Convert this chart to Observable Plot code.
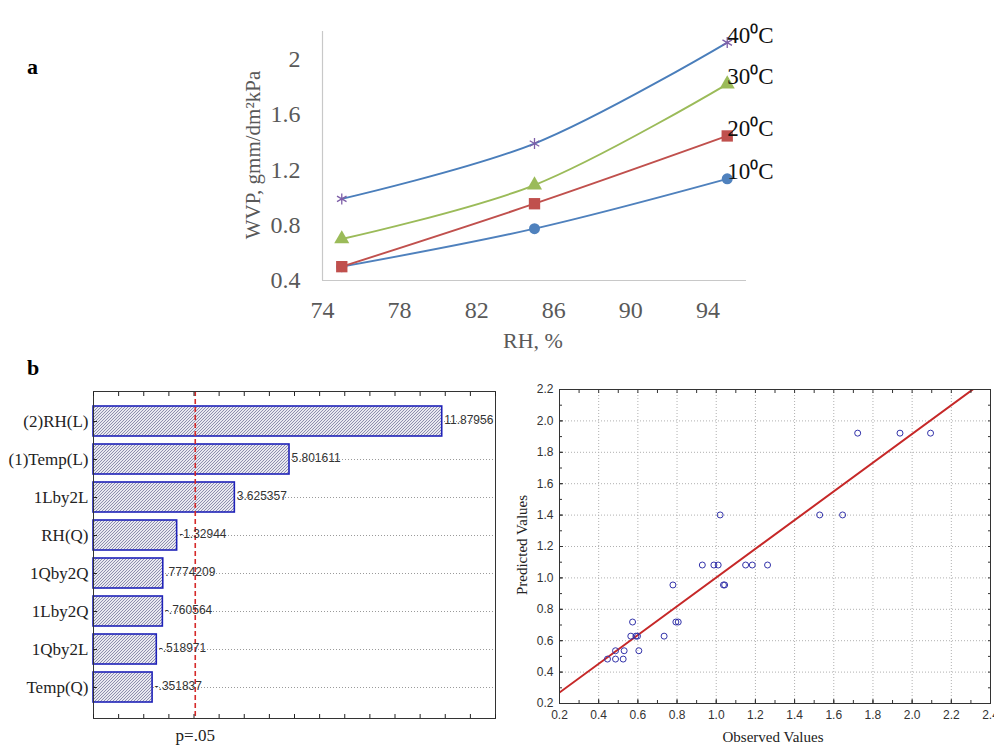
<!DOCTYPE html>
<html><head><meta charset="utf-8">
<script src="https://cdn.jsdelivr.net/npm/d3@7"></script>
<script src="https://cdn.jsdelivr.net/npm/@observablehq/plot@0.6"></script>
<style>
html,body{margin:0;padding:0;background:#fff;}
#root{position:relative;width:994px;height:747px;overflow:hidden;background:#fff;}
#root > svg{position:absolute;}
</style></head><body><div id="root"></div>
<script>
// ---------- Panel a data ----------
const rhLevels = [75, 85, 95];
const seriesNames = ["10⁰C", "20⁰C", "30⁰C", "40⁰C"];
const wvp10 = [0.50, 0.775, 1.135];
const wvp20 = [0.50, 0.955, 1.445];
const wvp30 = [0.70, 1.09, 1.82];
const wvp40 = [0.99, 1.39, 2.12];
const rhTicks = [74, 78, 82, 86, 90, 94];
const wvpTicks = [0.4, 0.8, 1.2, 1.6, 2.0];

// ---------- Panel b (Pareto) data ----------
const effectTerms = ["(2)RH(L)", "(1)Temp(L)", "1Lby2L", "RH(Q)", "1Qby2Q", "1Lby2Q", "1Qby2L", "Temp(Q)"];
const effectValues = [11.87956, 5.801611, 3.625357, 1.32944, 0.7774209, 0.760564, 0.518971, 0.351837];
const effectLabels = ["11.87956", "5.801611", "3.625357", "-1.32944", ".7774209", "-.760564", "-.518971", "-.351837"];
const effectAxisMin = -2;
const effectAxisMax = 14;
const pCritical = 2.05;
const pLabel = "p=.05";

// ---------- Panel b (observed vs predicted) data ----------
const observed = [1.722, 1.938, 2.094, 1.020, 1.528, 1.645, 0.929, 0.988, 1.010, 1.150, 1.184, 1.262,
  0.779, 1.037, 1.043, 0.573, 0.794, 0.806, 0.564, 0.590, 0.598, 0.734, 0.486, 0.530, 0.605, 0.445, 0.486, 0.525];
const predicted = [1.922, 1.922, 1.922, 1.401, 1.401, 1.401, 1.082, 1.082, 1.082, 1.082, 1.082, 1.082,
  0.955, 0.955, 0.955, 0.719, 0.719, 0.719, 0.629, 0.629, 0.629, 0.629, 0.536, 0.536, 0.536, 0.483, 0.483, 0.483];
const fitIntercept = 0.087;
const fitSlope = 0.915;
const obsTicks = [0.2, 0.4, 0.6, 0.8, 1.0, 1.2, 1.4, 1.6, 1.8, 2.0, 2.2, 2.4];
const predTicks = [0.2, 0.4, 0.6, 0.8, 1.0, 1.2, 1.4, 1.6, 1.8, 2.0, 2.2];

const root = document.getElementById("root");
const SERIF = "'Liberation Serif','Times New Roman',serif";
const SANS = "'Liberation Sans',Arial,sans-serif";

// ================= Panel a =================
const wvpSeries = [wvp10, wvp20, wvp30, wvp40];
const wvpRows = [];
seriesNames.forEach((s, i) => rhLevels.forEach((rh, j) => wvpRows.push({series: s, rh, wvp: wvpSeries[i][j]})));
const lastRows = seriesNames.map((s, i) => ({series: s, rh: rhLevels[rhLevels.length - 1], wvp: wvpSeries[i][rhLevels.length - 1]}));
const lineColors = ["#4F81BD", "#C0504D", "#9BBB59", "#4A7EBB"];
const markerColors = ["#4F81BD", "#C0504D", "#9BBB59", "#7E5FA8"];
const markerSymbols = ["circle", "square", "triangle", "asterisk"];
const markerR = [5.5, 6.4, 5.6, 5.2];

const chartA = Plot.plot({
  width: 994, height: 360,
  marginLeft: 322, marginRight: 248, marginTop: 31, marginBottom: 80,
  style: {fontFamily: SERIF, color: "#595959", background: "transparent", overflow: "visible"},
  x: {domain: [74, 96]},
  y: {domain: [0.4, 2.2]},
  color: {domain: seriesNames, range: lineColors},
  marks: [
    Plot.ruleX([74], {stroke: "#C8C8C8", strokeWidth: 1.2}),
    Plot.ruleY([0.4], {stroke: "#C8C8C8", strokeWidth: 1.2}),
    Plot.axisX({ticks: rhTicks, tickSize: 0, tickPadding: 20, fontSize: 24, label: null}),
    Plot.axisY({ticks: wvpTicks, tickFormat: d3.format("~g"), tickSize: 0, tickPadding: 22, fontSize: 24, label: null}),
    Plot.line(wvpRows, {x: "rh", y: "wvp", z: "series", stroke: "series", curve: "catmull-rom", strokeWidth: 1.9}),
    ...seriesNames.map((s, i) => Plot.dot(wvpRows.filter(d => d.series === s), {
      x: "rh", y: "wvp", symbol: markerSymbols[i], r: markerR[i],
      fill: markerSymbols[i] === "asterisk" ? "none" : markerColors[i],
      stroke: markerSymbols[i] === "asterisk" ? markerColors[i] : "none",
      strokeWidth: 1.3
    })),
    Plot.text(lastRows, {x: "rh", y: "wvp", text: "series", textAnchor: "start", dy: -7, fontSize: 23, fill: "#111", fontFamily: SERIF})
  ]
});
chartA.style.left = "0px"; chartA.style.top = "0px";
root.appendChild(chartA);

// ================= Panel b: Pareto =================
const effRows = effectTerms.map((t, i) => ({term: t, value: effectValues[i], label: effectLabels[i]}));
const unitTicks = d3.range(effectAxisMin, effectAxisMax + 1);
const hatchDefs = () => {
  const ns = "http://www.w3.org/2000/svg";
  const defs = document.createElementNS(ns, "defs");
  const pat = document.createElementNS(ns, "pattern");
  pat.setAttribute("id", "hatchB");
  pat.setAttribute("patternUnits", "userSpaceOnUse");
  pat.setAttribute("width", "3");
  pat.setAttribute("height", "3");
  const rect = document.createElementNS(ns, "rect");
  rect.setAttribute("width", "3"); rect.setAttribute("height", "3"); rect.setAttribute("fill", "#e8e8f0");
  const path = document.createElementNS(ns, "path");
  path.setAttribute("d", "M-1,1 L1,-1 M0,3 L3,0 M2,4 L4,2");
  path.setAttribute("stroke", "#707098"); path.setAttribute("stroke-width", "0.75");
  pat.appendChild(rect); pat.appendChild(path); defs.appendChild(pat);
  return defs;
};

const chartB1 = Plot.plot({
  width: 500, height: 377,
  marginLeft: 93, marginRight: 5, marginTop: 21, marginBottom: 29,
  style: {fontFamily: SERIF, color: "#222", background: "transparent", overflow: "visible"},
  x: {domain: [effectAxisMin, effectAxisMax]},
  y: {domain: effectTerms, paddingInner: 0.2, paddingOuter: 0.34},
  marks: [
    hatchDefs,
    Plot.gridY({stroke: "#9a9a9a", strokeOpacity: 1, strokeDasharray: "1,2"}),
    Plot.barX(effRows, {y: "term", x1: effectAxisMin, x2: "value", fill: "url(#hatchB)", stroke: "#1f22b8", strokeWidth: 1.6}),
    Plot.ruleX([pCritical], {stroke: "#d62a2a", strokeWidth: 1.6, strokeDasharray: "5,3"}),
    Plot.text(effRows, {y: "term", x: "value", text: "label", textAnchor: "start", dx: 2, dy: -1, fontSize: 12, fontFamily: SANS, fill: "#333"}),
    Plot.frame({stroke: "#333"}),
    Plot.axisY({tickSize: -4, tickPadding: 9, fontSize: 17, label: null}),
    Plot.axisX({anchor: "top", ticks: unitTicks, tickSize: -4, tickFormat: () => "", label: null}),
    Plot.axisX({anchor: "bottom", ticks: unitTicks, tickSize: -4, tickFormat: () => "", label: null}),
    Plot.axisX({anchor: "bottom", ticks: [pCritical], tickSize: 0, tickPadding: 10, tickFormat: () => pLabel, fontSize: 17, label: null})
  ]
});
chartB1.style.left = "0px"; chartB1.style.top = "370px";
root.appendChild(chartB1);

// ================= Panel b: Observed vs Predicted =================
const scatRows = observed.map((o, i) => ({obs: o, pred: predicted[i]}));
const obsDomain = [obsTicks[0], obsTicks[obsTicks.length - 1]];
const predDomain = [predTicks[0], predTicks[predTicks.length - 1]];
const fitRows = obsDomain.map(x => ({obs: x, pred: fitIntercept + fitSlope * x}));
const minorObs = d3.range(2, 25).map(v => v / 10);
const minorPred = d3.range(2, 23).map(v => v / 10);

const chartB2 = Plot.plot({
  width: 494, height: 377,
  marginLeft: 59, marginRight: 4, marginTop: 19, marginBottom: 44,
  style: {fontFamily: SANS, color: "#333", background: "transparent", overflow: "visible"},
  x: {domain: obsDomain},
  y: {domain: predDomain},
  marks: [
    Plot.gridX({ticks: obsTicks, stroke: "#b0b0b0", strokeOpacity: 1, strokeDasharray: "1,2"}),
    Plot.gridY({ticks: predTicks, stroke: "#b0b0b0", strokeOpacity: 1, strokeDasharray: "1,2"}),
    Plot.line(fitRows, {x: "obs", y: "pred", stroke: "#c62828", strokeWidth: 2, clip: true}),
    Plot.dot(scatRows, {x: "obs", y: "pred", r: 3, stroke: "#3333aa", strokeWidth: 1}),
    Plot.frame({stroke: "#333"}),
    Plot.axisX({anchor: "bottom", ticks: minorObs, tickSize: -3, tickFormat: () => "", label: null}),
    Plot.axisX({anchor: "top", ticks: minorObs, tickSize: -3, tickFormat: () => "", label: null}),
    Plot.axisY({anchor: "left", ticks: minorPred, tickSize: -3, tickFormat: () => "", label: null}),
    Plot.axisY({anchor: "right", ticks: minorPred, tickSize: -3, tickFormat: () => "", label: null}),
    Plot.axisX({anchor: "bottom", ticks: obsTicks, tickFormat: d3.format(".1f"), tickSize: -4, tickPadding: 11, fontSize: 12, label: null}),
    Plot.axisY({anchor: "left", ticks: predTicks, tickFormat: d3.format(".1f"), tickSize: -4, tickPadding: 10, fontSize: 12, label: null})
  ]
});
chartB2.style.left = "500px"; chartB2.style.top = "370px";
root.appendChild(chartB2);

// ================= Titles / panel letters overlay =================
const overlay = d3.select(root).append("svg")
  .attr("width", 994).attr("height", 747)
  .style("left", "0px").style("top", "0px").style("pointer-events", "none");
const addText = (txt, x, y, opts = {}) => {
  const t = overlay.append("text").text(txt)
    .attr("font-family", SERIF)
    .attr("font-size", opts.size || 16)
    .attr("font-weight", opts.weight || "normal")
    .attr("fill", opts.fill || "#000")
    .attr("text-anchor", opts.anchor || "middle");
  if (opts.rotate) t.attr("transform", `translate(${x},${y}) rotate(-90)`);
  else t.attr("x", x).attr("y", y);
};
addText("a", 27, 74, {size: 22, weight: "bold", anchor: "start"});
addText("b", 27, 375, {size: 22, weight: "bold", anchor: "start"});
addText("WVP, gmm/dm²kPa", 260, 155, {size: 21, fill: "#595959", rotate: true});
addText("RH, %", 533, 348, {size: 22, fill: "#595959"});
addText("Predicted Values", 527, 545, {size: 15, fill: "#222", rotate: true});
addText("Observed Values", 773, 742, {size: 15, fill: "#222"});
</script></body></html>
